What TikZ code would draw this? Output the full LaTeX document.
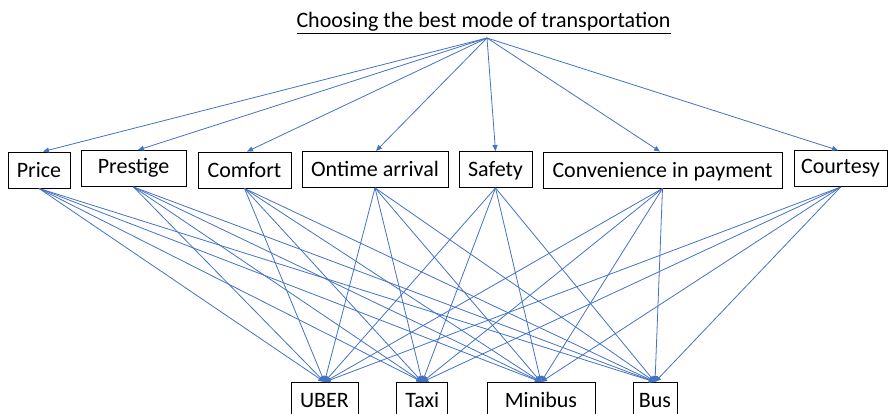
\documentclass[tikz,border=0pt]{standalone}
\usepackage{fontspec}
\setmainfont{Carlito}
\usetikzlibrary{arrows.meta}
\definecolor{lineblue}{HTML}{4472C4}
\begin{document}
\begin{tikzpicture}[x=1pt,y=-1pt,
  crit/.style={draw=black,line width=0.9pt,rectangle,inner xsep=0pt,inner ysep=9pt,
    text height=16pt,text depth=2pt,font=\fontsize{22}{26}\selectfont},
  alt/.style={crit,anchor=north},
  link/.style={draw=lineblue,line width=0.8pt,-{Triangle[length=6pt,width=5pt]}}]
\useasboundingbox (0,0) rectangle (890,414);
\clip (0,0) rectangle (890,414);
\node[font=\fontsize{22}{26}\selectfont,anchor=base] (title) at (483.5,28) {\underline{Choosing the best mode of transportation}};
\coordinate (apex) at (487,38);
% criteria
\node[crit,minimum width=62pt] (price) at (39,170) {Price};
\node[crit,minimum width=105pt,text height=14pt,text depth=4pt] (prestige) at (133.5,168.5) {Prestige};
\node[crit,minimum width=93pt] (comfort) at (244.5,170) {Comfort};
\node[crit,minimum width=146pt] (ontime) at (375,169.4) {Ontime arrival};
\node[crit,minimum width=73pt] (safety) at (495.5,169.5) {Safety};
\node[crit,minimum width=239pt] (conv) at (662.5,170) {Convenience in payment};
\node[crit,minimum width=93pt,text height=14pt,text depth=4pt] (court) at (840.5,168.7) {Courtesy};
% alternatives
\node[alt,minimum width=67pt] (uber) at (324.5,382) {UBER};
\node[alt,minimum width=51pt] (taxi) at (422.3,382) {Taxi};
\node[alt,minimum width=108pt] (minibus) at (541,382) {Minibus};
\node[alt,minimum width=44pt] (bus) at (655,382) {Bus};
% apex arrows
\draw[link] (apex) -- ([xshift=4pt]price.north);
\draw[link] (apex) -- ([xshift=4.5pt]prestige.north);
\draw[link] (apex) -- ([xshift=2.5pt]comfort.north);
\draw[link] (apex) -- ([xshift=1pt]ontime.north);
\draw[link] (apex) -- (safety.north);
\draw[link] (apex) -- ([xshift=-2.5pt]conv.north);
\draw[link] (apex) -- ([xshift=-2.5pt]court.north);
% criteria to alternatives
\foreach \c in {price,prestige,comfort,ontime,safety,conv,court}{
  \foreach \a in {uber,taxi,minibus,bus}{
    \draw[link] (\c.south) -- (\a.north);
  }
}
\end{tikzpicture}
\end{document}
